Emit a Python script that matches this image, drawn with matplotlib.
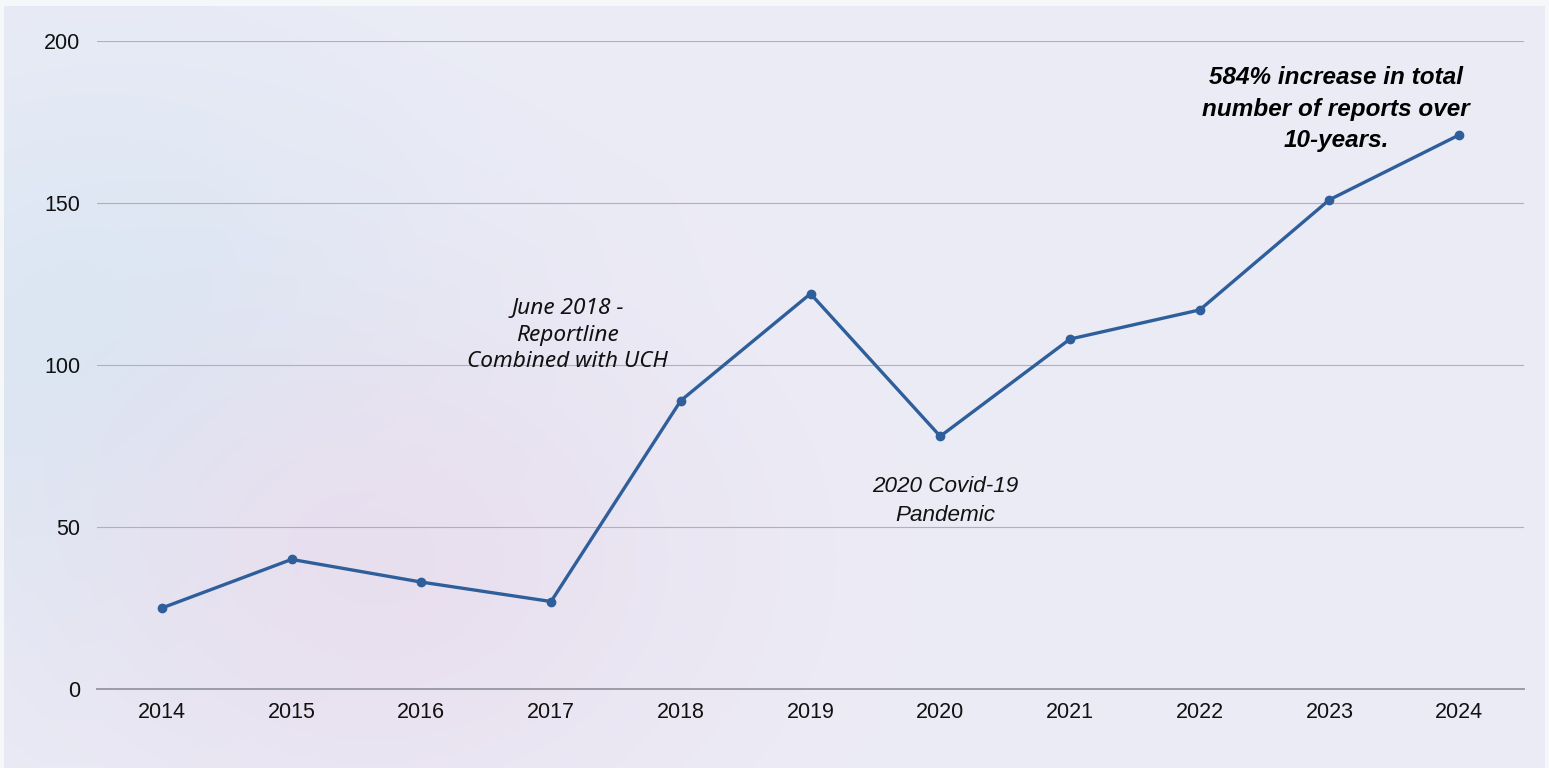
import numpy as np
import matplotlib
matplotlib.use("Agg")
import matplotlib.pyplot as plt

# Annual report totals
years = ["2014", "2015", "2016", "2017", "2018", "2019", "2020", "2021", "2022", "2023", "2024"]
reports = [25, 40, 33, 27, 89, 122, 78, 108, 117, 151, 171]
y_ticks = [0, 50, 100, 150, 200]

W, H = 1549, 768
fig = plt.figure(figsize=(W / 100, H / 100), dpi=100, facecolor="#F6F7F9")

# Soft gradient backdrop
bg = fig.add_axes([0, 0, 1, 1], zorder=-5)
bg.set_axis_off()
yy, xx = np.mgrid[0:H, 0:W].astype(float)
base = np.array([0.925, 0.925, 0.965])
img = np.ones((H, W, 3)) * base
blue = np.array([0.850, 0.905, 0.955])
pink = np.array([0.915, 0.865, 0.930])
wb = np.exp(-(((xx - 100) / 340) ** 2 + ((yy - 360) / 300) ** 2))
wp = np.exp(-(((xx - 380) / 330) ** 2 + ((yy - 560) / 260) ** 2))
img = img * (1 - wb[..., None] * 0.95) + blue * (wb[..., None] * 0.95)
img = img * (1 - wp[..., None] * 0.8) + pink * (wp[..., None] * 0.8)
img = np.clip(img, 0, 1)
bg.imshow(img, extent=(4, W - 4, H, 6), aspect="auto", interpolation="bilinear")
bg.set_xlim(0, W)
bg.set_ylim(H, 0)

ax = fig.add_axes([97 / W, 1 - 689 / H, (1524 - 97) / W, (689 - 41) / H])
ax.set_facecolor("none")
x = np.arange(len(years))
ax.plot(x, reports, color="#2F5F9B", lw=2.4, marker="o", ms=6,
        solid_joinstyle="round", zorder=3, clip_on=False)

ax.set_xlim(-0.5, len(years) - 0.5)
ax.set_ylim(0, 200)
ax.set_yticks(y_ticks)
ax.set_xticks(x)
ax.set_xticklabels(years)
ax.grid(axis="y", color="#AEB0BE", lw=0.8)
ax.set_axisbelow(True)
for s in ["top", "right", "left"]:
    ax.spines[s].set_visible(False)
ax.spines["bottom"].set_color("#9C9CA6")
ax.spines["bottom"].set_linewidth(1.4)
ax.tick_params(axis="both", length=0, labelsize=15.5, colors="#111111", labelfontfamily="Liberation Sans")
ax.tick_params(axis="x", pad=9)
ax.tick_params(axis="y", pad=12)

ax.text(3.13, 109.2, "June 2018 -\nReportline\nCombined with UCH", ha="center", va="center",
        fontsize=16.3, style="italic", family="Noto Sans", color="#111111", linespacing=1.36)
ax.text(6.04, 58.0, "2020 Covid-19\nPandemic", ha="center", va="center",
        fontsize=16.2, style="italic", family="Liberation Sans", color="#111111", linespacing=1.45)
ax.text(9.05, 179.0, "584% increase in total\nnumber of reports over\n10-years.", ha="center", va="center",
        fontsize=17.5, style="italic", weight="bold", family="Liberation Sans", color="#000000",
        linespacing=1.47)

fig.savefig("out.png", dpi=100, facecolor=fig.get_facecolor())
